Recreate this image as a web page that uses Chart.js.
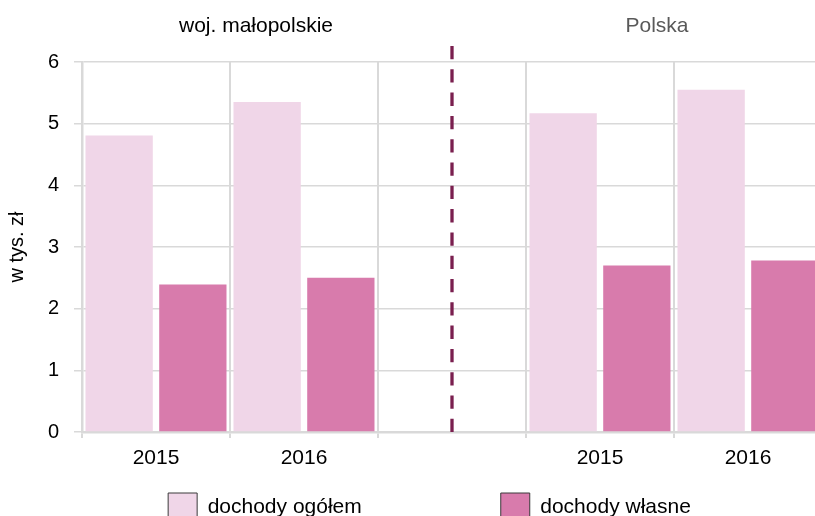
<!DOCTYPE html>
<html>
<head>
<meta charset="utf-8">
<script src="https://cdn.jsdelivr.net/npm/chart.js@4.4.1/dist/chart.umd.min.js"></script>
<style>
  html, body { margin: 0; padding: 0; overflow: hidden; background: #fff; width: 815px; height: 516px; }
  canvas { display: block; }
</style>
</head>
<body>
<canvas id="c" width="859" height="532"></canvas>
<script>
// ---- data ----
const categories = ['2015', '2016', '', '2015', '2016'];
const dochodyOgolem = [4.81, 5.35, null, 5.17, 5.55];
const dochodyWlasne = [2.39, 2.50, null, 2.70, 2.78];
const seriesNames = ['dochody ogółem', 'dochody własne'];
const groupTitles = ['woj. małopolskie', 'Polska'];
const yAxisTitle = 'w tys. zł';
const yMin = 0, yMax = 6, yStep = 1;

// ---- styles ----
const FONT = "'Liberation Sans', Arial, sans-serif";
const GRID = '#d9d9d9';
const LIGHT = '#f0d6e8';
const DARK = '#d87bac';
const SEP = '#7a1f4f';
const LEGEND_GAP = 139;

Chart.defaults.font.family = FONT;
Chart.defaults.color = '#000';

const annotations = {
  id: 'annotations',
  afterDatasetsDraw(chart) {
    const { ctx, chartArea, scales } = chart;
    const sepIndex = categories.indexOf('');
    const sx = scales.x.getPixelForValue(sepIndex);
    ctx.save();
    ctx.strokeStyle = SEP;
    ctx.lineWidth = 3.3;
    ctx.setLineDash([13.3, 10]);
    ctx.beginPath();
    ctx.moveTo(sx, chartArea.top - 16);
    ctx.lineTo(sx, chartArea.bottom);
    ctx.stroke();
    ctx.restore();

    ctx.save();
    ctx.font = '21px ' + FONT;
    ctx.textAlign = 'center';
    ctx.textBaseline = 'middle';
    ctx.fillStyle = '#000';
    ctx.fillText(groupTitles[0], 256, 26);
    ctx.fillStyle = '#595959';
    ctx.fillText(groupTitles[1], 657, 26);
    ctx.restore();
  }
};

new Chart(document.getElementById('c'), {
  type: 'bar',
  data: {
    labels: categories,
    datasets: [
      { label: seriesNames[0], data: dochodyOgolem, backgroundColor: LIGHT, borderWidth: 0 },
      { label: seriesNames[1], data: dochodyWlasne, backgroundColor: DARK, borderWidth: 0 }
    ]
  },
  options: {
    responsive: false,
    animation: false,
    categoryPercentage: 0.996,
    barPercentage: 0.913,
    layout: { padding: { top: 62, left: 0, right: 0, bottom: 0 } },
    plugins: {
      tooltip: { enabled: false },
      legend: {
        position: 'bottom',
        labels: {
          boxWidth: 29,
          boxHeight: 29,
          padding: LEGEND_GAP,
          color: '#000',
          font: { size: 21, family: FONT },
          generateLabels(chart) {
            const items = Chart.defaults.plugins.legend.labels.generateLabels(chart);
            items.forEach(it => { it.lineWidth = 1; it.strokeStyle = '#3a3a3a'; });
            return items;
          }
        },
        title: {
          display: true,
          text: '',
          font: { size: 12 },
          padding: { top: 0, bottom: -(LEGEND_GAP + 14.4 - 23) }
        }
      }
    },
    scales: {
      x: {
        type: 'category',
        offset: true,
        grid: { offset: true, color: GRID, lineWidth: 2, tickLength: 6, drawTicks: true },
        border: { color: GRID, width: 2.5 },
        ticks: { font: { size: 21 }, color: '#000', padding: 8, maxRotation: 0, autoSkip: false },
        afterFit(s) { s.height = 38; }
      },
      y: {
        min: yMin,
        max: yMax,
        ticks: { stepSize: yStep, font: { size: 20 }, color: '#000', padding: 15 },
        grid: { color: GRID, lineWidth: 1.5, tickLength: 8 },
        border: { color: GRID, width: 2.5 },
        title: { display: true, text: yAxisTitle, font: { size: 20 }, color: '#000', padding: { top: 5, bottom: 0 } },
        afterFit(s) { s.width = 82; }
      },
      yr: {
        position: 'right',
        display: true,
        grid: { display: false },
        border: { display: false },
        ticks: { display: false },
        afterFit(s) { s.width = 37; }
      }
    }
  },
  plugins: [annotations]
});
</script>
</body>
</html>
